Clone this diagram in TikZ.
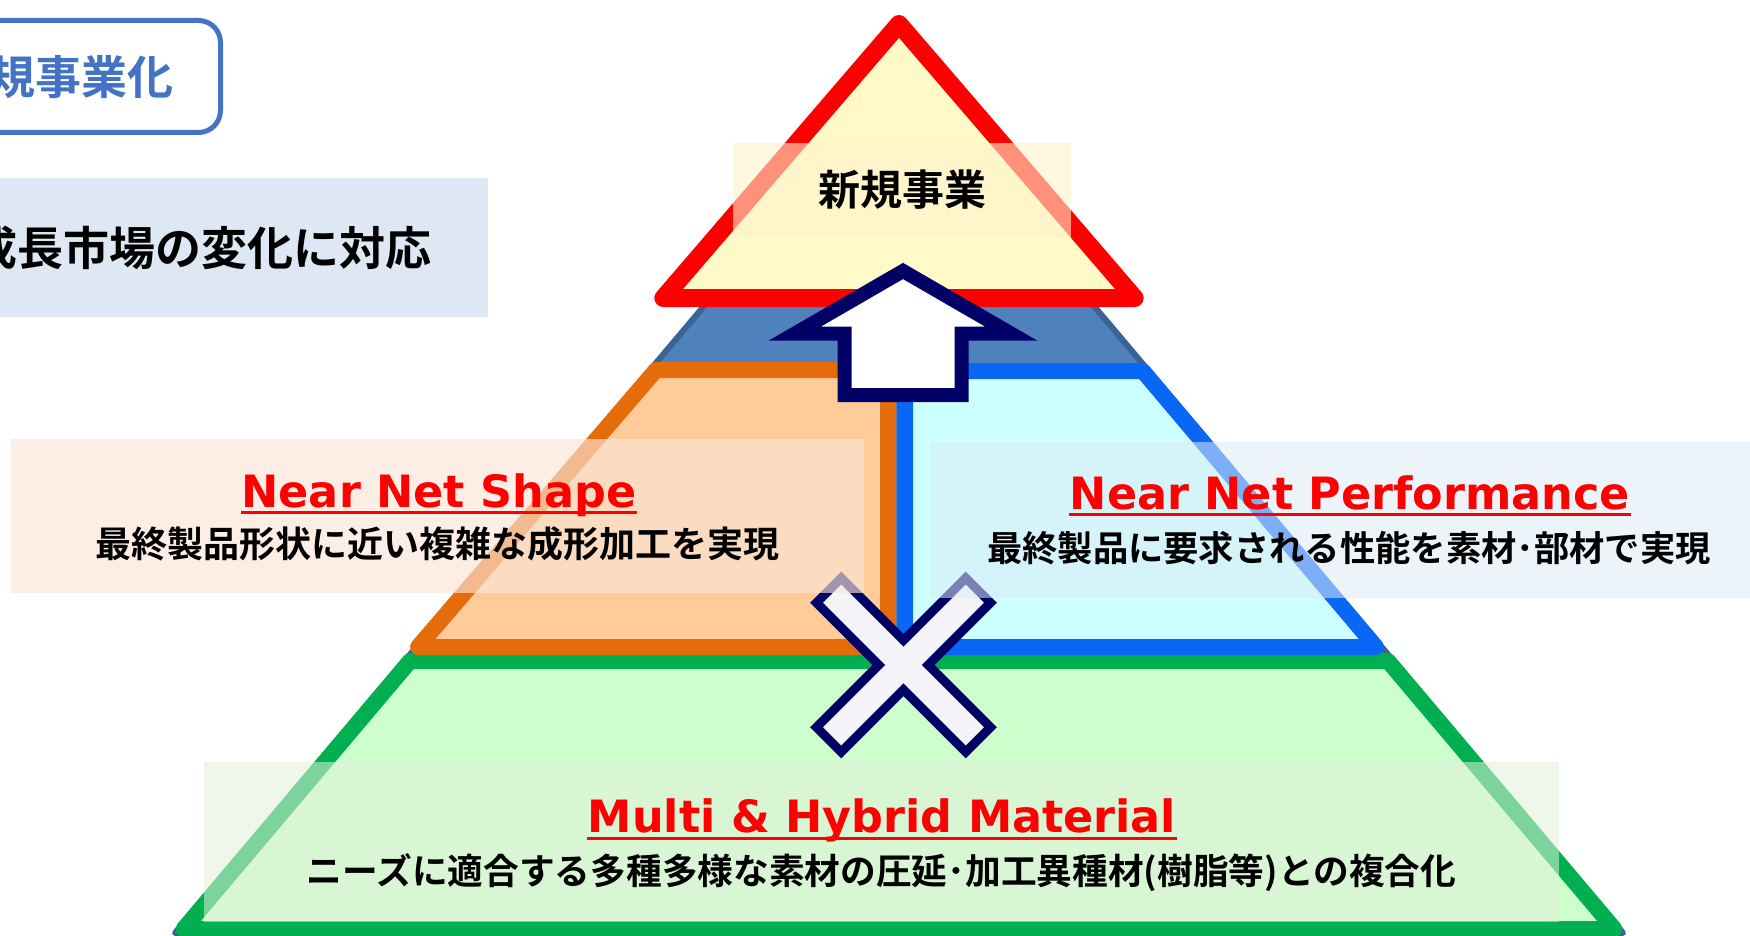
\documentclass[tikz,border=0pt]{standalone}
\usepackage{fontspec}
\newfontfamily\jpb{Noto Sans CJK JP}[UprightFont=* Bold]
\newfontfamily\dvb{DejaVu Sans}[UprightFont=* Bold]
\definecolor{cblue}{HTML}{4472C4}
\definecolor{lightblue}{HTML}{DDE8F4}
\definecolor{steel}{HTML}{4F81BD}
\definecolor{steeldark}{HTML}{3B6496}
\definecolor{gfill}{HTML}{CCFFCC}
\definecolor{gline}{HTML}{00B050}
\definecolor{ofill}{HTML}{FFCC99}
\definecolor{oline}{HTML}{E46C0A}
\definecolor{bfill}{HTML}{CCFFFF}
\definecolor{bline}{HTML}{0A66F5}
\definecolor{yfill}{HTML}{FFFAC8}
\definecolor{lred}{HTML}{FF0000}
\definecolor{navy}{HTML}{000066}
\definecolor{xwhite}{HTML}{F4F4F8}
\definecolor{ovY}{HTML}{FFF2CC}
\definecolor{ovO}{HTML}{FBE5D6}
\definecolor{ovB}{HTML}{DEEBF7}
\definecolor{ovG}{HTML}{E2F0D9}
\tikzset{
  lbl/.style={font=\dvb\fontsize{22.25pt}{26pt}\selectfont, text=lred, inner sep=0pt, anchor=base},
  jtx/.style={inner sep=0pt, anchor=base, text=black},
  ulin/.style={draw=lred, line width=1.5pt},
  ovl/.style={draw=none, fill opacity=0.62},
  tier/.style={line width=8pt, line join=round},
}
\begin{document}
\begin{tikzpicture}[x=0.5pt,y=-0.5pt]
\useasboundingbox (0,0) rectangle (1750,936);
\fill[white] (0,0) rectangle (1750,936);
% top-left labels
\draw[cblue, line width=2.5pt, rounded corners=11pt] (-60,20.5) rectangle (220.5,132.5);
\node[jtx, anchor=base east, text=cblue, font=\jpb\fontsize{23pt}{26pt}\selectfont] (tnew) at (174,95) {新規事業化};
\fill[lightblue] (0,178) rectangle (488,317);
\node[jtx, anchor=base east, font=\jpb\fontsize{23pt}{26pt}\selectfont] (tgrow) at (432,265) {成長市場の変化に対応};
% pyramid body
\filldraw[fill=steel, draw=steeldark, line width=3pt, line join=round] (899,75) -- (175,933) -- (1623,933) -- cycle;
\filldraw[tier, fill=gfill, draw=gline] (410,661) -- (1388,661) -- (1614.4,929) -- (183.6,929) -- cycle;
\filldraw[tier, fill=ofill, draw=oline] (656,370) -- (888,370) -- (888,647) -- (418,647) -- cycle;
\filldraw[tier, fill=bfill, draw=bline] (905,371) -- (1142.8,371) -- (1376,647) -- (905,647) -- cycle;
\filldraw[fill=yfill, draw=lred, line width=9pt, line join=round] (899,24) -- (1134.6,298) -- (663.4,298) -- cycle;
% up arrow
\filldraw[fill=white, draw=navy, line width=7pt, line join=miter] (903,271) -- (1011,333.5) -- (961.5,333.5) -- (961.5,395) -- (844.5,395) -- (844.5,333.5) -- (795,333.5) -- cycle;
% cross
\begin{scope}[shift={(903.5,665)}]
\filldraw[fill=xwhite, draw=navy, line width=4.5pt, line join=miter] (0,24.7) -- (62.2,87) -- (87,62.2) -- (24.7,0) -- (87,-62.2) -- (62.2,-87) -- (0,-24.7) -- (-62.2,-87) -- (-87,-62.2) -- (-24.7,0) -- (-87,62.2) -- (-62.2,87) -- cycle;
\end{scope}
% translucent label boxes
\fill[ovl, ovY, fill opacity=0.6] (733,143) rectangle (1071,238);
\fill[ovl, ovO, fill opacity=0.65] (11,439) rectangle (864,593);
\fill[ovl, ovB, fill opacity=0.55] (930,442) rectangle (1750,598);
\fill[ovl, ovG, fill opacity=0.55] (204,762) rectangle (1559,922);
% texts
\node[jtx, font=\jpb\fontsize{21pt}{24pt}\selectfont] (tbiz) at (902,206) {新規事業};
\node[lbl] (nns) at (439,507) {Near Net Shape};
\draw[ulin] ([yshift=-2.5pt]nns.base west) -- ([yshift=-2.5pt]nns.base east);
\node[jtx, font=\jpb\fontsize{18pt}{20pt}\selectfont] (jnns) at (437,557) {最終製品形状に近い複雑な成形加工を実現};
\node[lbl] (nnp) at (1350,509) {Near Net Performance};
\draw[ulin] ([yshift=-2.5pt]nnp.base west) -- ([yshift=-2.5pt]nnp.base east);
\node[jtx, font=\jpb\fontsize{17.65pt}{20pt}\selectfont] (jnnp) at (1349,561) {最終製品に要求される性能を素材･部材で実現};
\node[lbl] (mhm) at (882,832) {Multi \& Hybrid Material};
\draw[ulin] ([yshift=-3pt]mhm.base west) -- ([yshift=-3pt]mhm.base east);
\node[jtx, font=\jpb\fontsize{17.85pt}{20pt}\selectfont] (jmhm) at (881.5,884) {ニーズに適合する多種多様な素材の圧延･加工異種材(樹脂等)との複合化};
\end{tikzpicture}
\end{document}
